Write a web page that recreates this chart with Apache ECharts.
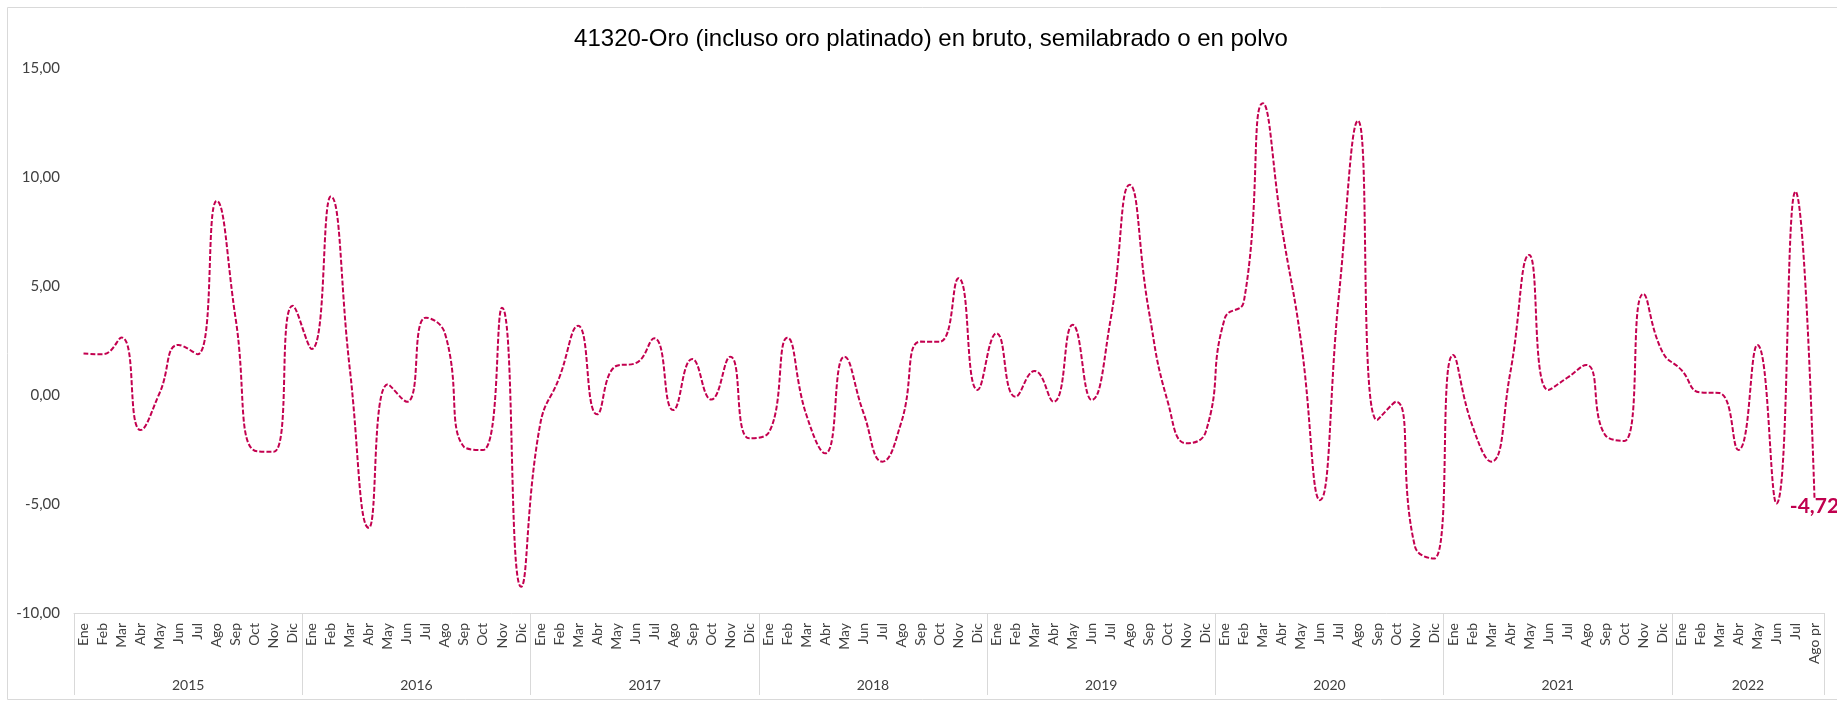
<!DOCTYPE html>
<html>
<head>
<meta charset="utf-8">
<script src="https://cdn.jsdelivr.net/npm/echarts@6/dist/echarts.min.js"></script>
<style>
	html, body { margin: 0; padding: 0; background: #fff; }
	#chart { width: 1837px; height: 701px; }
</style>
</head>
<body>
<div id="chart"></div>
<script>
	const years = ["2015", "2016", "2017", "2018", "2019", "2020", "2021", "2022"]
	const monthNames = ["Ene", "Feb", "Mar", "Abr", "May", "Jun", "Jul", "Ago", "Sep", "Oct", "Nov", "Dic"]
	const monthsPerYear = [12, 12, 12, 12, 12, 12, 12, 8]
	const lastMonthLabel = "Ago pr"

	// variación mensual (%)
	const v2015 = [1.91, 1.88, 2.65, -1.6, 0.1, 2.31, 1.88, 8.92, 3.5, -2.55, -2.6, 4.11]
	const v2016 = [2.12, 9.12, 1.2, -6.09, 0.5, -0.3, 3.56, 2.84, -2.37, -2.52, 4.02, -8.8]
	const v2017 = [-1.37, 0.78, 3.19, -0.88, 1.34, 1.46, 2.61, -0.68, 1.66, -0.2, 1.77, -1.98]
	const v2018 = [-1.75, 2.64, -0.9, -2.67, 1.77, -0.8, -3.05, -1.22, 2.46, 2.45, 5.37, 0.24]
	const v2019 = [2.84, -0.07, 1.11, -0.3, 3.23, -0.22, 3.5, 9.66, 3.9, -0.3, -2.21, -1.68]
	const v2020 = [3.53, 4.3, 13.41, 7.7, 2.5, -4.82, 4.6, 12.6, -1.14, -0.3, -6.96, -7.5]
	const v2021 = [1.85, -1.37, -3.05, 1.0, 6.44, 0.24, 0.8, 1.39, -1.83, -2.1, 4.65, 2.0]
	const v2022 = [1.16, 0.13, 0.1, -2.52, 2.31, -4.97, 9.35, -4.72]

	const values = [].concat(v2015, v2016, v2017, v2018, v2019, v2020, v2021, v2022)

	// categorías: mes + año
	const months = []
	const yearCats = []
	const yearMid = {}
	let start = 0
	years.forEach((y, k) => {
		const n = monthsPerYear[k]
		for (let m = 0; m < n; m++) {
			months.push(monthNames[m])
			yearCats.push(y)
		}
		yearMid[start + n / 2] = true
		start += n
	})
	months[months.length - 1] = lastMonthLabel

	const fmt = (v) => v.toFixed(2).replace(".", ",")
	const lineColor = "#C3004F"
	const last = values.length - 1

	const seriesData = values.map((v, i) => {
		if (i !== last) return v
		return {
			value: v,
			label: {
				show: true,
				position: "bottom",
				distance: -2,
				formatter: (p) => fmt(p.value),
				color: "#C0004E",
				fontFamily: "Lato",
				fontWeight: "bold",
				fontSize: 21
			}
		}
	})

	const chart = echarts.init(document.getElementById("chart"))
	chart.setOption({
		animation: false,
		title: {
			text: "41320-Oro (incluso oro platinado) en bruto, semilabrado o en polvo",
			left: 926,
			textAlign: "center",
			top: 22,
			textStyle: {
				fontFamily: "Liberation Sans",
				fontWeight: "normal",
				fontSize: 24,
				color: "#000"
			}
		},
		graphic: [
			{
				type: "rect",
				shape: { x: 7.5, y: 7.5, width: 1850, height: 692 },
				style: { fill: "none", stroke: "#d9d9d9", lineWidth: 1 },
				silent: true
			}
		],
		grid: {
			left: 74,
			right: 13,
			top: 68.5,
			bottom: 88,
			containLabel: false,
			outerBoundsMode: "none"
		},
		xAxis: [
			{
				type: "category",
				position: "bottom",
				data: months,
				boundaryGap: true,
				axisLine: { show: true, onZero: false, lineStyle: { color: "#d9d9d9", width: 1 } },
				axisTick: { show: false },
				axisLabel: {
					interval: 0,
					rotate: 90,
					margin: 10,
					fontFamily: "Lato",
					fontSize: 14,
					color: "#404040"
				},
				splitLine: { show: false }
			},
			{
				type: "category",
				position: "bottom",
				data: yearCats,
				boundaryGap: true,
				axisLine: { show: false, onZero: false },
				axisTick: {
					show: true,
					interval: (i) => i % 12 === 0,
					length: 82,
					lineStyle: { color: "#d9d9d9", width: 1 }
				},
				axisLabel: {
					interval: 0,
					margin: 65,
					padding: [0, 19, 0, 0],
					formatter: (val, i) => (yearMid[i] ? val : ""),
					fontFamily: "Lato",
					fontSize: 14,
					color: "#404040"
				},
				splitLine: { show: false }
			}
		],
		yAxis: {
			type: "value",
			min: -10,
			max: 15,
			interval: 5,
			axisLine: { show: false },
			axisTick: { show: false },
			splitLine: { show: false },
			axisLabel: {
				margin: 14,
				formatter: (v) => fmt(v),
				fontFamily: "Lato",
				fontSize: 15,
				color: "#404040"
			}
		},
		series: [
			{
				type: "line",
				xAxisIndex: 0,
				data: seriesData,
				smooth: 0.5,
				symbol: "circle",
				symbolSize: 0,
				showSymbol: true,
				showAllSymbol: true,
				lineStyle: {
					color: lineColor,
					width: 2,
					type: [5, 2]
				},
				itemStyle: { color: lineColor }
			}
		]
	})
</script>
</body>
</html>
